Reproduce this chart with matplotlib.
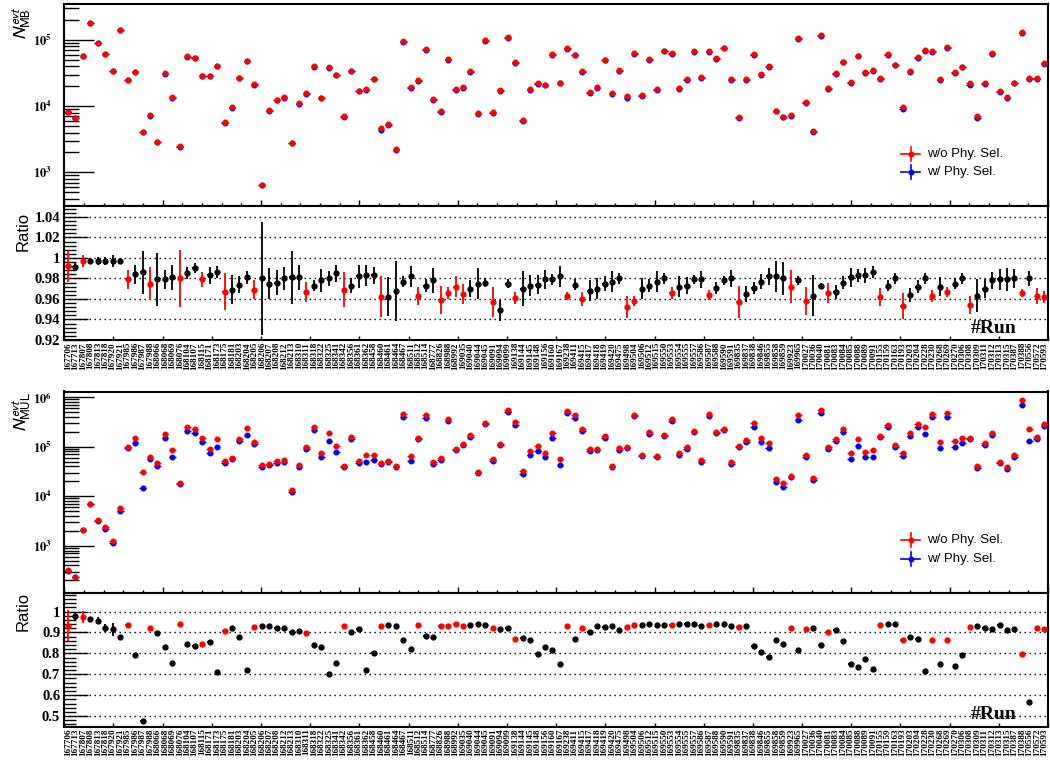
import numpy as np
import matplotlib
matplotlib.use('Agg')
import matplotlib.pyplot as plt
from matplotlib.ticker import MultipleLocator, LogLocator, NullFormatter, FuncFormatter

plt.rcParams['mathtext.fontset'] = 'stix'

runs = [167706, 167713, 167807, 167808, 167813, 167818, 167920, 167921, 167985, 167986,
        167987, 167988, 168066, 168068, 168069, 168076, 168104, 168107, 168115, 168171,
        168173, 168175, 168181, 168203, 168204, 168205, 168206, 168207, 168208, 168212,
        168213, 168310, 168311, 168318, 168322, 168325, 168341, 168342, 168356, 168361,
        168362, 168458, 168460, 168461, 168464, 168467, 168511, 168512, 168514, 168777,
        168826, 168988, 168992, 169035, 169040, 169044, 169045, 169091, 169094, 169099,
        169138, 169144, 169145, 169148, 169156, 169160, 169167, 169238, 169411, 169415,
        169417, 169418, 169419, 169420, 169475, 169498, 169504, 169506, 169512, 169515,
        169550, 169553, 169554, 169555, 169557, 169586, 169587, 169588, 169590, 169591,
        169835, 169837, 169838, 169846, 169855, 169858, 169859, 169923, 169965, 170027,
        170036, 170040, 170081, 170083, 170084, 170085, 170088, 170089, 170091, 170155,
        170159, 170163, 170193, 170203, 170204, 170228, 170230, 170268, 170269, 170270,
        170306, 170308, 170309, 170311, 170312, 170313, 170315, 170387, 170388, 170556,
        170572, 170593]

# MB triggered events without physics selection
mb_wo = [8.1e3, 6.65e3, 5.7e4, 1.82e5, 9.0e4, 6.2e4, 3.4e4, 1.43e5, 2.5e4, 3.3e4,
         4.1e3, 7.3e3, 2.9e3, 3.15e4, 1.37e4, 2.46e3, 5.7e4, 5.35e4, 2.9e4, 2.9e4,
         4.07e4, 5.7e3, 9.7e3, 2.7e4, 4.9e4, 2.15e4, 652, 8.8e3, 1.26e4, 1.37e4,
         2.8e3, 1.1e4, 1.6e4, 4.07e4, 1.35e4, 3.9e4, 2.97e4, 7.1e3, 3.44e4, 1.7e4,
         1.8e4, 2.6e4, 4.6e3, 5.4e3, 2.25e3, 9.7e4, 1.93e4, 2.5e4, 7.3e4, 1.27e4,
         8.6e3, 5.1e4, 1.8e4, 1.95e4, 3.44e4, 7.8e3, 1.0e5, 8.2e3, 1.76e4, 1.1e5,
         4.6e4, 6.2e3, 1.82e4, 2.24e4, 2.11e4, 6.15e4, 2.27e4, 7.5e4, 6.0e4, 3.4e4,
         1.66e4, 1.95e4, 5.05e4, 1.58e4, 3.5e4, 1.41e4, 6.4e4, 1.49e4, 5.1e4, 1.8e4,
         6.9e4, 6.4e4, 1.9e4, 2.57e4, 6.8e4, 2.73e4, 6.8e4, 5.3e4, 7.7e4, 2.58e4,
         6.95e3, 2.58e4, 6.07e4, 3.06e4, 4.04e4, 8.6e3, 6.95e3, 7.4e3, 1.06e5, 1.17e4,
         4.2e3, 1.2e5, 1.9e4, 3.16e4, 4.7e4, 2.29e4, 5.73e4, 3.25e4, 3.48e4, 2.63e4,
         6.2e4, 4.24e4, 9.6e3, 3.36e4, 5.47e4, 6.98e4, 6.82e4, 2.55e4, 7.9e4, 3.25e4,
         3.95e4, 2.21e4, 7.0e3, 2.21e4, 6.3e4, 1.7e4, 1.36e4, 2.27e4, 1.32e5, 2.63e4,
         2.67e4, 4.45e4]

# ratio (w/ / w/o physics selection) for MB
mb_ratio = [0.992, 0.991, 0.997, 0.997, 0.997, 0.997, 0.997, 0.997, 0.979, 0.984,
            0.986, 0.975, 0.979, 0.979, 0.981, 0.980, 0.985, 0.990, 0.979, 0.983,
            0.986, 0.967, 0.969, 0.974, 0.981, 0.969, 0.980, 0.975, 0.976, 0.980,
            0.981, 0.981, 0.967, 0.973, 0.978, 0.980, 0.985, 0.969, 0.973, 0.982,
            0.983, 0.983, 0.962, 0.962, 0.968, 0.977, 0.982, 0.963, 0.973, 0.978,
            0.959, 0.966, 0.972, 0.965, 0.970, 0.975, 0.976, 0.957, 0.949, 0.975,
            0.961, 0.970, 0.973, 0.974, 0.979, 0.979, 0.982, 0.963, 0.974, 0.960,
            0.968, 0.970, 0.975, 0.977, 0.980, 0.952, 0.958, 0.970, 0.973, 0.977,
            0.980, 0.966, 0.972, 0.973, 0.979, 0.979, 0.964, 0.971, 0.978, 0.980,
            0.957, 0.965, 0.971, 0.977, 0.982, 0.982, 0.980, 0.972, 0.978, 0.958,
            0.963, 0.973, 0.966, 0.967, 0.976, 0.981, 0.983, 0.983, 0.986, 0.962,
            0.973, 0.980, 0.953, 0.964, 0.972, 0.980, 0.963, 0.972, 0.967, 0.975,
            0.980, 0.954, 0.963, 0.970, 0.978, 0.979, 0.979, 0.980, 0.966, 0.980,
            0.963, 0.962]
mb_ratio_err = [0.015, 0.004, 0.0055, 0.003, 0.004, 0.004, 0.006, 0.003, 0.009, 0.009,
                0.021, 0.016, 0.026, 0.009, 0.012, 0.028, 0.006, 0.005, 0.0075, 0.008,
                0.006, 0.018, 0.014, 0.008, 0.006, 0.009, 0.055, 0.015, 0.012, 0.011,
                0.026, 0.012, 0.010, 0.005, 0.011, 0.007, 0.008, 0.017, 0.007, 0.011,
                0.010, 0.008, 0.020, 0.019, 0.029, 0.005, 0.010, 0.009, 0.006, 0.012,
                0.014, 0.006, 0.010, 0.010, 0.008, 0.015, 0.004, 0.015, 0.010, 0.004,
                0.006, 0.017, 0.010, 0.009, 0.009, 0.005, 0.010, 0.004, 0.005, 0.007,
                0.010, 0.010, 0.007, 0.010, 0.005, 0.011, 0.005, 0.010, 0.006, 0.010,
                0.005, 0.006, 0.010, 0.008, 0.004, 0.008, 0.005, 0.006, 0.004, 0.008,
                0.016, 0.008, 0.006, 0.007, 0.008, 0.015, 0.016, 0.016, 0.004, 0.014,
                0.020, 0.003, 0.010, 0.007, 0.006, 0.009, 0.006, 0.007, 0.006, 0.009,
                0.005, 0.005, 0.013, 0.007, 0.006, 0.005, 0.006, 0.009, 0.005, 0.005,
                0.005, 0.009, 0.016, 0.009, 0.008, 0.010, 0.011, 0.009, 0.004, 0.007,
                0.008, 0.006]

# MUL triggered events without physics selection
mul_wo = [324, 238, 2.1e3, 7.1e3, 3.24e3, 2.38e3, 1.22e3, 5.65e3, 1.0e5, 1.49e5,
          3.04e4, 6.1e4, 4.6e4, 1.8e5, 8.4e4, 1.83e4, 2.49e5, 2.23e5, 1.47e5, 8.8e4,
          1.4e5, 5.07e4, 6.0e4, 1.45e5, 2.34e5, 1.24e5, 4.2e4, 4.5e4, 5.1e4, 5.3e4,
          1.36e4, 4.35e4, 9.8e4, 2.53e5, 7.6e4, 1.88e5, 1.05e5, 4.1e4, 1.57e5, 5.07e4,
          6.9e4, 6.7e4, 4.76e4, 5.2e4, 4.08e4, 4.55e5, 6.4e4, 1.52e5, 4.28e5, 4.99e4,
          5.9e4, 3.55e5, 9.1e4, 1.15e5, 1.69e5, 3.1e4, 3.0e5, 5.7e4, 1.15e5, 5.4e5,
          3.18e5, 3.19e4, 8.05e4, 1.05e5, 7.45e4, 1.85e5, 5.6e4, 5.2e5, 4.35e5, 2.27e5,
          9.1e4, 9.1e4, 1.61e5, 4.14e4, 9.4e4, 1.0e5, 4.4e5, 6.8e4, 1.94e5, 6.6e4,
          1.75e5, 3.55e5, 7.35e4, 9.7e4, 2.07e5, 5.3e4, 4.55e5, 1.97e5, 2.27e5, 4.9e4,
          1.05e5, 1.36e5, 3.0e5, 1.52e5, 1.2e5, 2.27e4, 1.85e4, 2.6e4, 4.28e5, 6.7e4,
          2.34e4, 5.56e5, 1.0e5, 1.45e5, 2.27e5, 7.45e4, 1.43e5, 7.9e4, 8.4e4, 1.64e5,
          2.69e5, 1.06e5, 7.57e4, 1.88e5, 2.9e5, 2.53e5, 4.55e5, 1.24e5, 4.7e5, 1.32e5,
          1.49e5, 1.52e5, 4.0e4, 1.2e5, 1.91e5, 4.9e4, 3.95e4, 6.7e4, 8.6e5, 2.3e5,
          1.54e5, 2.86e5]

# ratio (w/ / w/o physics selection) for MUL
mul_ratio = [0.933, 0.978, 0.974, 0.963, 0.957, 0.920, 0.915, 0.877, 0.936, 0.794,
             0.478, 0.923, 0.896, 0.829, 0.753, 0.943, 0.844, 0.834, 0.847, 0.856,
             0.710, 0.909, 0.920, 0.880, 0.721, 0.925, 0.931, 0.933, 0.920, 0.920,
             0.903, 0.909, 0.898, 0.842, 0.829, 0.702, 0.754, 0.933, 0.904, 0.915,
             0.721, 0.804, 0.933, 0.936, 0.933, 0.864, 0.820, 0.935, 0.884, 0.877,
             0.930, 0.930, 0.939, 0.933, 0.938, 0.939, 0.936, 0.920, 0.919, 0.920,
             0.869, 0.872, 0.863, 0.796, 0.829, 0.817, 0.751, 0.930, 0.869, 0.920,
             0.904, 0.931, 0.925, 0.933, 0.912, 0.925, 0.935, 0.938, 0.941, 0.936,
             0.938, 0.938, 0.941, 0.941, 0.941, 0.933, 0.936, 0.943, 0.943, 0.933,
             0.928, 0.930, 0.837, 0.805, 0.783, 0.864, 0.847, 0.923, 0.818, 0.915,
             0.923, 0.842, 0.901, 0.912, 0.861, 0.748, 0.737, 0.775, 0.726, 0.936,
             0.939, 0.943, 0.866, 0.880, 0.869, 0.716, 0.863, 0.751, 0.864, 0.740,
             0.793, 0.927, 0.933, 0.920, 0.919, 0.936, 0.912, 0.919, 0.796, 0.566,
             0.920, 0.915]
mul_ratio_err = [0.074, 0.020, 0.027, 0.010, 0.015, 0.020, 0.030, 0.013, 0.004, 0.004,
                 0.004, 0.004, 0.004, 0.004, 0.004, 0.004, 0.004, 0.004, 0.004, 0.004,
                 0.004, 0.004, 0.004, 0.004, 0.004, 0.004, 0.004, 0.004, 0.004, 0.004,
                 0.004, 0.004, 0.004, 0.004, 0.004, 0.004, 0.004, 0.004, 0.004, 0.004,
                 0.004, 0.004, 0.004, 0.004, 0.004, 0.004, 0.004, 0.004, 0.004, 0.004,
                 0.004, 0.004, 0.004, 0.004, 0.004, 0.004, 0.004, 0.004, 0.004, 0.004,
                 0.004, 0.004, 0.004, 0.004, 0.004, 0.004, 0.004, 0.004, 0.004, 0.004,
                 0.004, 0.004, 0.004, 0.004, 0.004, 0.004, 0.004, 0.004, 0.004, 0.004,
                 0.004, 0.004, 0.004, 0.004, 0.004, 0.004, 0.004, 0.004, 0.004, 0.004,
                 0.004, 0.004, 0.004, 0.004, 0.004, 0.004, 0.004, 0.004, 0.004, 0.004,
                 0.004, 0.004, 0.004, 0.004, 0.004, 0.004, 0.004, 0.004, 0.004, 0.004,
                 0.004, 0.004, 0.004, 0.004, 0.004, 0.004, 0.004, 0.004, 0.004, 0.004,
                 0.004, 0.004, 0.004, 0.004, 0.004, 0.004, 0.004, 0.004, 0.004, 0.004,
                 0.004, 0.004]

# runs drawn in red in the ratio panels
red_bins = [0, 2, 8, 11, 15, 18, 21, 25, 32, 37, 42, 47, 50, 51, 52, 53, 57, 60, 67, 69,
            75, 76, 81, 86, 90, 97, 99, 102, 109, 112, 116, 118, 121, 128, 130, 131]

n = len(mb_wo)
x = np.arange(n) + 0.5
mb_w = np.array(mb_wo) * np.array(mb_ratio)
mul_w = np.array(mul_wo) * np.array(mul_ratio)
is_red = np.isin(np.arange(n), red_bins)

W, H = 1050, 761
L, R = 64.3, 1048.0
fig = plt.figure(figsize=(W / 100, H / 100), dpi=100)


def axes_px(top, bottom):
    return fig.add_axes([L / W, 1 - bottom / H, (R - L) / W, (bottom - top) / H])


ax1 = axes_px(4, 206)
ax2 = axes_px(206, 340)
ax3 = axes_px(391.5, 593)
ax4 = axes_px(593, 726.5)

SERIF = 'Liberation Serif'
SANS = 'Liberation Sans'


def style_frame(ax):
    for s in ax.spines.values():
        s.set_linewidth(1.5)
    ax.set_xlim(0, n)


def count_panel(ax, wo, w, ylim, top_px, bottom_px, leg_ys):
    style_frame(ax)
    ax.errorbar(x, w, xerr=0.45, fmt='o', color='blue', ms=3.3, elinewidth=1.0,
                capsize=0, zorder=3)
    ax.errorbar(x, wo, xerr=0.45, fmt='o', color='red', ms=3.3, elinewidth=1.0,
                capsize=0, zorder=4)
    ax.set_yscale('log')
    ax.set_ylim(*ylim)
    ax.xaxis.set_major_locator(MultipleLocator(n / 10))
    ax.xaxis.set_minor_locator(MultipleLocator(n / 50))
    ax.xaxis.set_major_formatter(NullFormatter())
    ax.yaxis.set_major_locator(LogLocator(base=10, numticks=20))
    ax.yaxis.set_minor_locator(LogLocator(base=10, subs=np.arange(2, 10), numticks=20))
    ax.yaxis.set_minor_formatter(NullFormatter())
    ax.yaxis.set_major_formatter(
        FuncFormatter(lambda v, p: r'$\mathbf{10^{%d}}$' % round(np.log10(v))))
    ax.tick_params(axis='y', which='major', direction='in', length=21.6, width=1.0,
                   labelsize=9, pad=9)
    ax.tick_params(axis='y', which='minor', direction='in', length=10.8, width=1.0)
    ax.tick_params(axis='x', which='major', direction='in', length=4.3, width=1.0)
    ax.tick_params(axis='x', which='minor', direction='in', length=2.2, width=1.0)

    def fx(px):
        return (px - L) / (R - L)

    def fy(py):
        return (bottom_px - py) / (bottom_px - top_px)

    for py, c, lab in zip(leg_ys, ['red', 'blue'], ['w/o Phy. Sel.', 'w/ Phy. Sel.']):
        ax.plot([fx(901), fx(920)], [fy(py), fy(py)], color=c, lw=1.2,
                transform=ax.transAxes, clip_on=False)
        ax.plot([fx(910.5), fx(910.5)], [fy(py - 7), fy(py + 7)], color=c, lw=1.2,
                transform=ax.transAxes, clip_on=False)
        ax.plot([fx(910.5)], [fy(py)], 'o', color=c, ms=3.3,
                transform=ax.transAxes, clip_on=False)
        ax.text(fx(927), fy(py), lab, transform=ax.transAxes, ha='left', va='center',
                fontsize=9.5, fontfamily=SANS)


def ratio_panel(ax, r, e, ylim, major, minor):
    style_frame(ax)
    r = np.array(r)
    e = np.array(e)
    for mask, c in ((~is_red, 'black'), (is_red, 'red')):
        ax.errorbar(x[mask], r[mask], yerr=e[mask], xerr=0.3, fmt='o', color=c,
                    ms=3.5, elinewidth=1.3, capsize=0, zorder=3)
    ax.set_ylim(*ylim)
    ax.yaxis.set_major_locator(MultipleLocator(major))
    ax.yaxis.set_minor_locator(MultipleLocator(minor))
    ax.yaxis.set_major_formatter(FuncFormatter(lambda v, p: '%g' % round(v, 4)))
    ax.grid(axis='y', which='major', color='black', linestyle=(0, (1, 2.6)), lw=1.0)
    ax.tick_params(axis='y', which='major', direction='in', length=17, width=1.0,
                   labelsize=10.5, pad=3)
    ax.tick_params(axis='y', which='minor', direction='in', length=8.6, width=1.0)
    for t in ax.get_yticklabels():
        t.set_fontfamily(SERIF)
        t.set_fontweight('bold')
    ax.xaxis.set_major_locator(MultipleLocator(n / 20))
    ax.xaxis.set_major_formatter(NullFormatter())
    ax.set_xticks(x, [str(v) for v in runs], minor=True)
    ax.tick_params(axis='x', which='major', direction='in', length=2.6, width=1.0)
    ax.tick_params(axis='x', which='minor', length=0, pad=1.5, labelsize=6.6,
                   labelrotation=90)
    for t in ax.get_xticklabels(minor=True):
        t.set_fontfamily(SERIF)
        t.set_fontweight('bold')
    ax.text(0.9675, 0.055, '#Run', transform=ax.transAxes, ha='right', va='baseline',
            fontsize=14, fontfamily=SERIF, fontweight='bold')


count_panel(ax1, mb_wo, mb_w, (310, 3.5e5), 4, 206, (154, 172.3))
ratio_panel(ax2, mb_ratio, mb_ratio_err, (0.92, 1.0506), 0.02, 0.004)
count_panel(ax3, mul_wo, mul_w, (111, 1.3e6), 391.5, 593, (540, 559))
ratio_panel(ax4, mul_ratio, mul_ratio_err, (0.45, 1.089), 0.1, 0.02)

for t in ax1.get_yticklabels() + ax3.get_yticklabels():
    t.set_fontweight('bold')

fig.text(22 / W, 1 - 6 / H, r'$N^{evt}_{\mathrm{MB}}$', rotation=90, ha='center',
         va='top', fontsize=13, math_fontfamily='stixsans')
fig.text(22 / W, 1 - 392 / H, r'$N^{evt}_{\mathrm{MUL}}$', rotation=90, ha='center',
         va='top', fontsize=13, math_fontfamily='stixsans')
fig.text(23 / W, 1 - 212 / H, 'Ratio', rotation=90, ha='center', va='top',
         fontsize=12, fontfamily=SANS)
fig.text(23 / W, 1 - 592 / H, 'Ratio', rotation=90, ha='center', va='top',
         fontsize=12, fontfamily=SANS)

fig.savefig('out.png', dpi=100)
